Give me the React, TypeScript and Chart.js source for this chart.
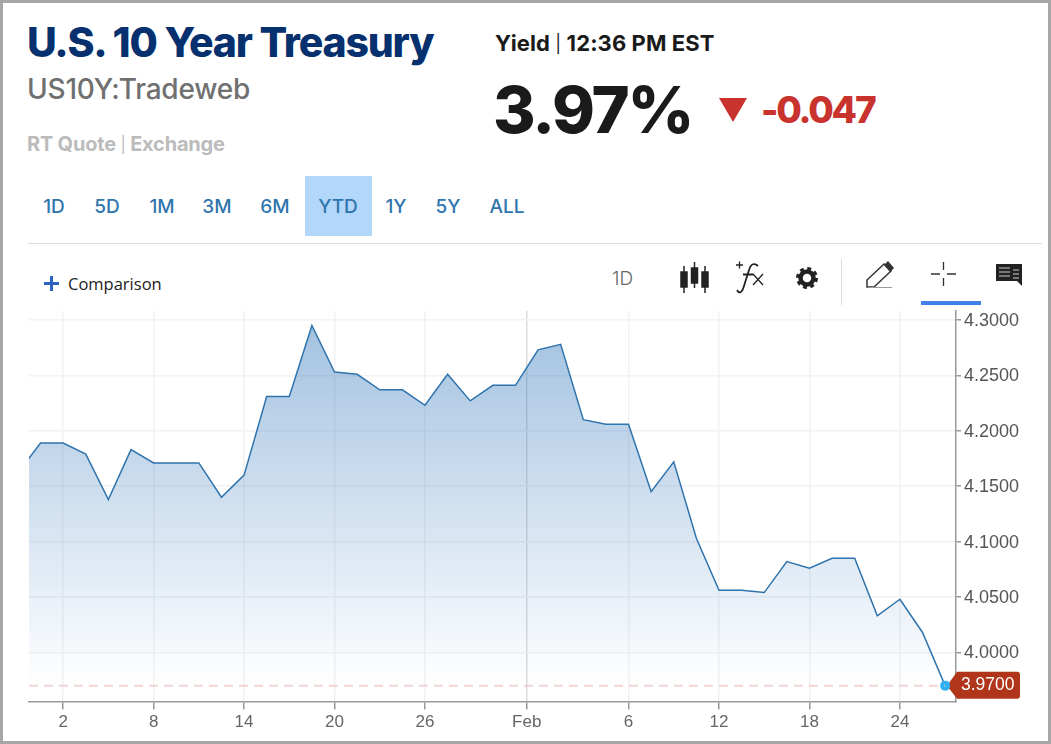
import React, { useEffect, useRef } from 'react';
import { Chart, registerables } from 'chart.js';

Chart.register(...registerables);

// one value per trading day, the first one sits just left of the visible window
const yields = [
  4.162, 4.189, 4.189, 4.179, 4.138, 4.183, 4.171, 4.171, 4.171, 4.14, 4.16,
  4.231, 4.231, 4.295, 4.253, 4.251, 4.237, 4.237, 4.223, 4.251, 4.227, 4.241,
  4.241, 4.273, 4.278, 4.21, 4.206, 4.206, 4.145, 4.172, 4.103, 4.056, 4.056,
  4.054, 4.082, 4.076, 4.085, 4.085, 4.033, 4.048, 4.018, 3.97,
];
const dateTickPositions = [2, 6, 10, 14, 18, 22.5, 27, 31, 35, 39];
const dateTickLabels = ['2', '8', '14', '20', '26', 'Feb', '6', '12', '18', '24'];
const yieldTicks = [4.0, 4.05, 4.1, 4.15, 4.2, 4.25, 4.3];
const ranges = ['1D', '5D', '1M', '3M', '6M', 'YTD', '1Y', '5Y', 'ALL'];
const rangeCenters = [54, 107, 162, 217, 275, 338, 396, 448, 507];

const X_MIN = 0.49;
const X_MAX = 41.48;
const Y_MIN = 3.9557;
const Y_MAX = 4.3081;
const lastYield = yields[yields.length - 1];

const HEAD = 'Inter, sans-serif';
const ARIAL = '"Liberation Sans", Arial, sans-serif';

// price tag on the right axis
const lastValueTag = {
  id: 'lastValueTag',
  beforeDatasetsDraw(chart: any) {
    const { ctx, scales } = chart;
    const y = scales.y.getPixelForValue(lastYield);
    const axisX = scales.y.left;
    ctx.save();
    ctx.fillStyle = '#b0351b';
    ctx.beginPath();
    ctx.moveTo(axisX - 9, y);
    ctx.lineTo(axisX + 1, y - 14);
    ctx.lineTo(1017, y - 14);
    ctx.quadraticCurveTo(1020, y - 14, 1020, y - 11);
    ctx.lineTo(1020, y + 10);
    ctx.quadraticCurveTo(1020, y + 13, 1017, y + 13);
    ctx.lineTo(axisX + 1, y + 13);
    ctx.closePath();
    ctx.fill();
    ctx.fillStyle = '#fff';
    ctx.font = `17.5px ${ARIAL}`;
    ctx.textAlign = 'left';
    ctx.textBaseline = 'middle';
    ctx.fillText(lastYield.toFixed(4), 961, y);
    ctx.restore();
  },
};

const Label: React.FC<{ x: number; y: number; style: React.CSSProperties; children: React.ReactNode }> = ({ x, y, style, children }) => (
  <span style={{ position: 'absolute', left: x, top: y, lineHeight: 1, whiteSpace: 'nowrap', ...style }}>{children}</span>
);

const Pipe: React.FC = () => <span style={{ fontWeight: 400, fontSize: '0.8em', verticalAlign: '0.08em' }}>|</span>;

const App: React.FC = () => {
  const canvasRef = useRef<HTMLCanvasElement | null>(null);

  useEffect(() => {
    const ctx = canvasRef.current?.getContext('2d');
    if (!ctx) return;

    const chart = new Chart(ctx, {
      type: 'line',
      data: {
        datasets: [
          {
            data: [{ x: X_MIN, y: lastYield }, { x: yields.length - 1, y: lastYield }],
            borderColor: 'rgba(235,190,190,0.65)',
            borderWidth: 2,
            borderDash: [9, 6],
            pointRadius: 0,
            fill: false,
          },
          {
            data: yields.map((v, i) => ({ x: i, y: v })),
            borderColor: '#2f73ad',
            borderWidth: 1.5,
            tension: 0,
            pointRadius: (c: any) => (c.dataIndex === yields.length - 1 ? 5 : 0),
            pointBackgroundColor: '#2fb0f0',
            pointBorderWidth: 0,
            fill: 'start',
            backgroundColor: (c: any) => {
              const { chart: ch } = c;
              if (!ch.chartArea) return 'transparent';
              const g = ch.ctx.createLinearGradient(0, ch.scales.y.getPixelForValue(4.295), 0, ch.scales.y.getPixelForValue(lastYield));
              g.addColorStop(0, 'rgba(60,125,190,0.47)');
              g.addColorStop(1, 'rgba(60,125,190,0)');
              return g;
            },
          },
        ],
      },
      options: {
        responsive: false,
        animation: false,
        parsing: false,
        layout: { padding: { left: 29, top: 311, right: 0, bottom: 0 } },
        plugins: { legend: { display: false }, tooltip: { enabled: false } },
        scales: {
          x: {
            type: 'linear',
            min: X_MIN,
            max: X_MAX,
            afterBuildTicks: (s: any) => {
              s.ticks = dateTickPositions.map((value) => ({ value }));
            },
            afterFit: (s: any) => {
              s.height = 42.5;
            },
            border: { color: '#999', width: 1.5 },
            grid: {
              color: (c: any) => (c.tick && c.tick.value === 22.5 ? '#dcdcdc' : '#f2f2f2'),
              lineWidth: 1.5,
              tickColor: '#999',
              tickLength: 8,
            },
            ticks: {
              autoSkip: false,
              maxRotation: 0,
              padding: 3,
              color: '#666',
              font: { family: ARIAL, size: 17 },
              callback: (v: any) => dateTickLabels[dateTickPositions.indexOf(Number(v))],
            },
          },
          y: {
            position: 'right',
            min: Y_MIN,
            max: Y_MAX,
            afterBuildTicks: (s: any) => {
              s.ticks = yieldTicks.map((value) => ({ value }));
            },
            afterFit: (s: any) => {
              s.width = 95;
            },
            border: { color: '#999', width: 1.5 },
            grid: { color: '#f2f2f2', lineWidth: 1.5, tickColor: '#999', tickLength: 5 },
            ticks: {
              padding: 3,
              labelOffset: 1,
              color: '#555',
              font: { family: ARIAL, size: 18 },
              callback: (v: any) => Number(v).toFixed(4),
            },
          },
        },
      },
      plugins: [lastValueTag],
    } as any);

    return () => {
      chart.destroy();
    };
  }, []);

  return (
    <div style={{ position: 'absolute', left: 0, top: 0, width: 1051, height: 744, background: '#fff', overflow: 'hidden', fontFamily: HEAD }}>
      <Label x={27} y={22} style={{ fontSize: 41, fontWeight: 800, color: '#06306e', letterSpacing: -1.2 }}>U.S. 10 Year Treasury</Label>
      <Label x={27} y={75} style={{ fontSize: 28, fontWeight: 500, color: '#707070', letterSpacing: -0.2 }}>US10Y:Tradeweb</Label>
      <Label x={27} y={134} style={{ fontSize: 20, fontWeight: 700, color: '#bbb', letterSpacing: -0.2 }}>RT Quote <Pipe /> Exchange</Label>
      <Label x={495} y={32} style={{ fontSize: 22, fontWeight: 700, color: '#1a1a1a', letterSpacing: 0.1 }}>Yield <Pipe /> 12:36 PM EST</Label>
      <Label x={493} y={77} style={{ fontSize: 65, fontWeight: 800, color: '#1a1a1a', letterSpacing: -2.2 }}>3.97%</Label>
      <Label x={761} y={91} style={{ fontSize: 37, fontWeight: 800, color: '#c9332e', letterSpacing: -2.2 }}>-0.047</Label>

      <div style={{ position: 'absolute', left: 305, top: 176, width: 67, height: 60, background: '#b3d6fb' }} />
      {ranges.map((r, i) => (
        <Label key={r} x={rangeCenters[i]} y={197} style={{ fontSize: 19, fontWeight: 500, color: '#2f75ae', transform: 'translateX(-50%)' }}>{r}</Label>
      ))}
      <div style={{ position: 'absolute', left: 28, top: 243, width: 1014, height: 1, background: '#ddd' }} />

      <Label x={68} y={276} style={{ fontSize: 16.5, color: '#222', fontFamily: '"Open Sans", sans-serif' }}>Comparison</Label>
      <Label x={612} y={269} style={{ fontSize: 19, fontWeight: 300, color: '#666' }}>1D</Label>

      <svg width={1051} height={744} style={{ position: 'absolute', left: 0, top: 0 }}>
        <polygon points="719,98 747,98 733,122" fill="#c9332e" />
        <path d="M44 283.5 H59 M51.5 276 V291" stroke="#2b62c4" strokeWidth={3} fill="none" />
        {/* candlesticks */}
        <g fill="#222" stroke="#222" strokeWidth={1.5}>
          <rect x={681} y={272} width={6} height={15} />
          <line x1={684} y1={266} x2={684} y2={293} />
          <rect x={691.5} y={268} width={6} height={15} />
          <line x1={694.5} y1={262} x2={694.5} y2={288} />
          <rect x={702} y={272} width={6} height={15} />
          <line x1={705} y1={266} x2={705} y2={293} />
        </g>
        {/* fx */}
        <path d="M736 265 H743 M739.5 261.5 V268.5" stroke="#222" strokeWidth={1.3} fill="none" />
        <path d="M737 290 C739 294 742 293 744 286 L749 270 C751 263 755 263 758 266 M743 274.5 H753" stroke="#222" strokeWidth={1.8} fill="none" />
        <path d="M753 274 L763 285 M763 274 L753 285" stroke="#222" strokeWidth={1.3} fill="none" />
        {/* gear */}
        <circle cx={807} cy={278} r={6.5} fill="none" stroke="#222" strokeWidth={4.5} />
        <circle cx={807} cy={278} r={9.5} fill="none" stroke="#222" strokeWidth={3} strokeDasharray="3.9 3.56" />
        <line x1={841.5} y1={259} x2={841.5} y2={305} stroke="#ddd" />
        {/* pencil */}
        <path d="M867 287 V280 L884 264 L891 271 L874 287 Z" fill="none" stroke="#333" strokeWidth={1.5} />
        <path d="M884 265 L888 261 L894 268 L890 272 Z" fill="#333" />
        <line x1={868} y1={287.5} x2={892} y2={287.5} stroke="#999" />
        {/* crosshair */}
        <path d="M931 274 H940 M947 274 H956 M943.5 262 V270 M943.5 278 V286" stroke="#333" strokeWidth={1.3} fill="none" />
        <rect x={921} y={301} width={60} height={4} fill="#3f80ea" />
        {/* comments */}
        <path d="M996 264 H1022 V286 L1017 281 H996 Z" fill="#222" />
        <path d="M999 268 H1010 M999 272 H1010 M999 276 H1010 M1013 270 H1019 M1013 274 H1019 M1013 278 H1019" stroke="#ccc" strokeWidth={1} />
      </svg>

      <canvas ref={canvasRef} width={1051} height={744} style={{ position: 'absolute', left: 0, top: 0 }} />

      <div style={{ position: 'absolute', left: 0, top: 0, width: 1051, height: 744, boxSizing: 'border-box', border: '3px solid #a6a6a6', pointerEvents: 'none' }} />
    </div>
  );
};

export default App;
